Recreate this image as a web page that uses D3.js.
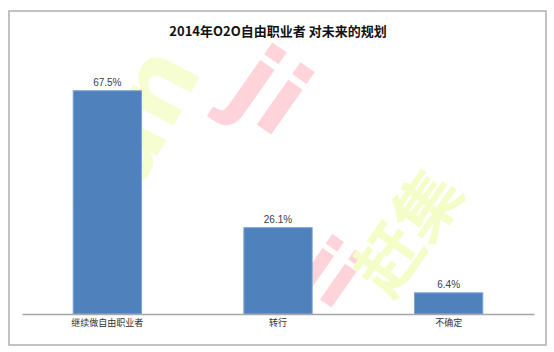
<!DOCTYPE html>
<html>
<head>
<meta charset="utf-8">
<script src="https://cdn.jsdelivr.net/npm/d3@7"></script>
<style>
  body { margin: 0; background: #fff; }
  svg { display: block; }
</style>
</head>
<body>
<svg width="554" height="352" viewBox="0 0 554 352"></svg>
<script>
const title = '2014年O2O自由职业者 对未来的规划'
const categories = ['继续做自由职业者', '转行', '不确定']
const values = [67.5, 26.1, 6.4]
const yDomain = [0, 80]

const svg = d3.select('svg')
const frame = { left: 9, top: 11, right: 546, bottom: 345 }
const plot = { left: 22, right: 534, top: 49.4, bottom: 314 }

// faint watermark behind the chart
const wm = svg.append('g').attr('class', 'watermark')
wm.append('text')
  .attr('transform', 'translate(110,245) rotate(-62)')
  .attr('font-family', 'DejaVu Sans, sans-serif')
  .attr('font-weight', 'bold')
  .attr('font-size', 100)
  .attr('fill', '#f6fdd0')
  .text('can')
wm.append('text')
  .attr('transform', 'translate(222,100) rotate(35)')
  .attr('font-family', 'DejaVu Sans, sans-serif')
  .attr('font-weight', 'bold')
  .attr('font-size', 100)
  .attr('fill', '#ffd3da')
  .text('ji')
wm.append('text')
  .attr('transform', 'translate(292,280) rotate(35)')
  .attr('font-family', 'DejaVu Sans, sans-serif')
  .attr('font-weight', 'bold')
  .attr('font-size', 80)
  .attr('fill', '#ffd3da')
  .text('ji')
wm.append('text')
  .attr('transform', 'translate(390,300) rotate(-55)')
  .attr('font-family', 'Noto Sans CJK SC, sans-serif')
  .attr('font-weight', 'bold')
  .attr('font-size', 66)
  .attr('fill', '#f4fcc8')
  .text('赶集')

svg.append('rect')
  .attr('x', frame.left)
  .attr('y', frame.top)
  .attr('width', frame.right - frame.left)
  .attr('height', frame.bottom - frame.top)
  .attr('fill', 'none')
  .attr('stroke', '#a3a3a3')
  .attr('stroke-width', 1.3)

svg.append('text')
  .attr('x', 278)
  .attr('y', 30)
  .attr('text-anchor', 'middle')
  .attr('dominant-baseline', 'central')
  .attr('font-family', 'Noto Sans CJK SC, sans-serif')
  .attr('font-weight', 'bold')
  .attr('font-size', 13)
  .attr('fill', '#111')
  .text(title)

const xScale = d3.scaleBand()
  .domain(categories)
  .range([plot.left, plot.right])
  .paddingInner(0.6)
  .paddingOuter(0.3)

const yScale = d3.scaleLinear()
  .domain(yDomain)
  .range([plot.bottom, plot.top])

const g = svg.append('g')

g.selectAll('rect.bar')
  .data(values)
  .enter().append('rect')
  .attr('class', 'bar')
  .attr('x', (d, i) => xScale(categories[i]))
  .attr('y', d => yScale(d))
  .attr('width', xScale.bandwidth())
  .attr('height', d => yScale(0) - yScale(d))
  .attr('fill', '#4f81bd')
  .attr('stroke', '#7aa3d6')
  .attr('stroke-width', 1)

g.selectAll('text.val')
  .data(values)
  .enter().append('text')
  .attr('class', 'val')
  .attr('x', (d, i) => xScale(categories[i]) + xScale.bandwidth() / 2)
  .attr('y', d => yScale(d) - 8)
  .attr('text-anchor', 'middle')
  .attr('dominant-baseline', 'central')
  .attr('font-family', 'Liberation Sans, Arial, sans-serif')
  .attr('font-size', 10)
  .attr('fill', '#404040')
  .text(d => `${d.toFixed(1)}%`)

const xAxis = d3.axisBottom(xScale).tickSize(0).tickPadding(6)
const ax = g.append('g')
  .attr('transform', `translate(0,${plot.bottom})`)
  .call(xAxis)
ax.select('.domain').attr('stroke', '#a6a6a6').attr('stroke-width', 1.5)
ax.selectAll('text')
  .attr('font-family', 'Noto Sans CJK SC, sans-serif')
  .attr('font-size', 9)
  .attr('fill', '#333')
</script>
</body>
</html>
